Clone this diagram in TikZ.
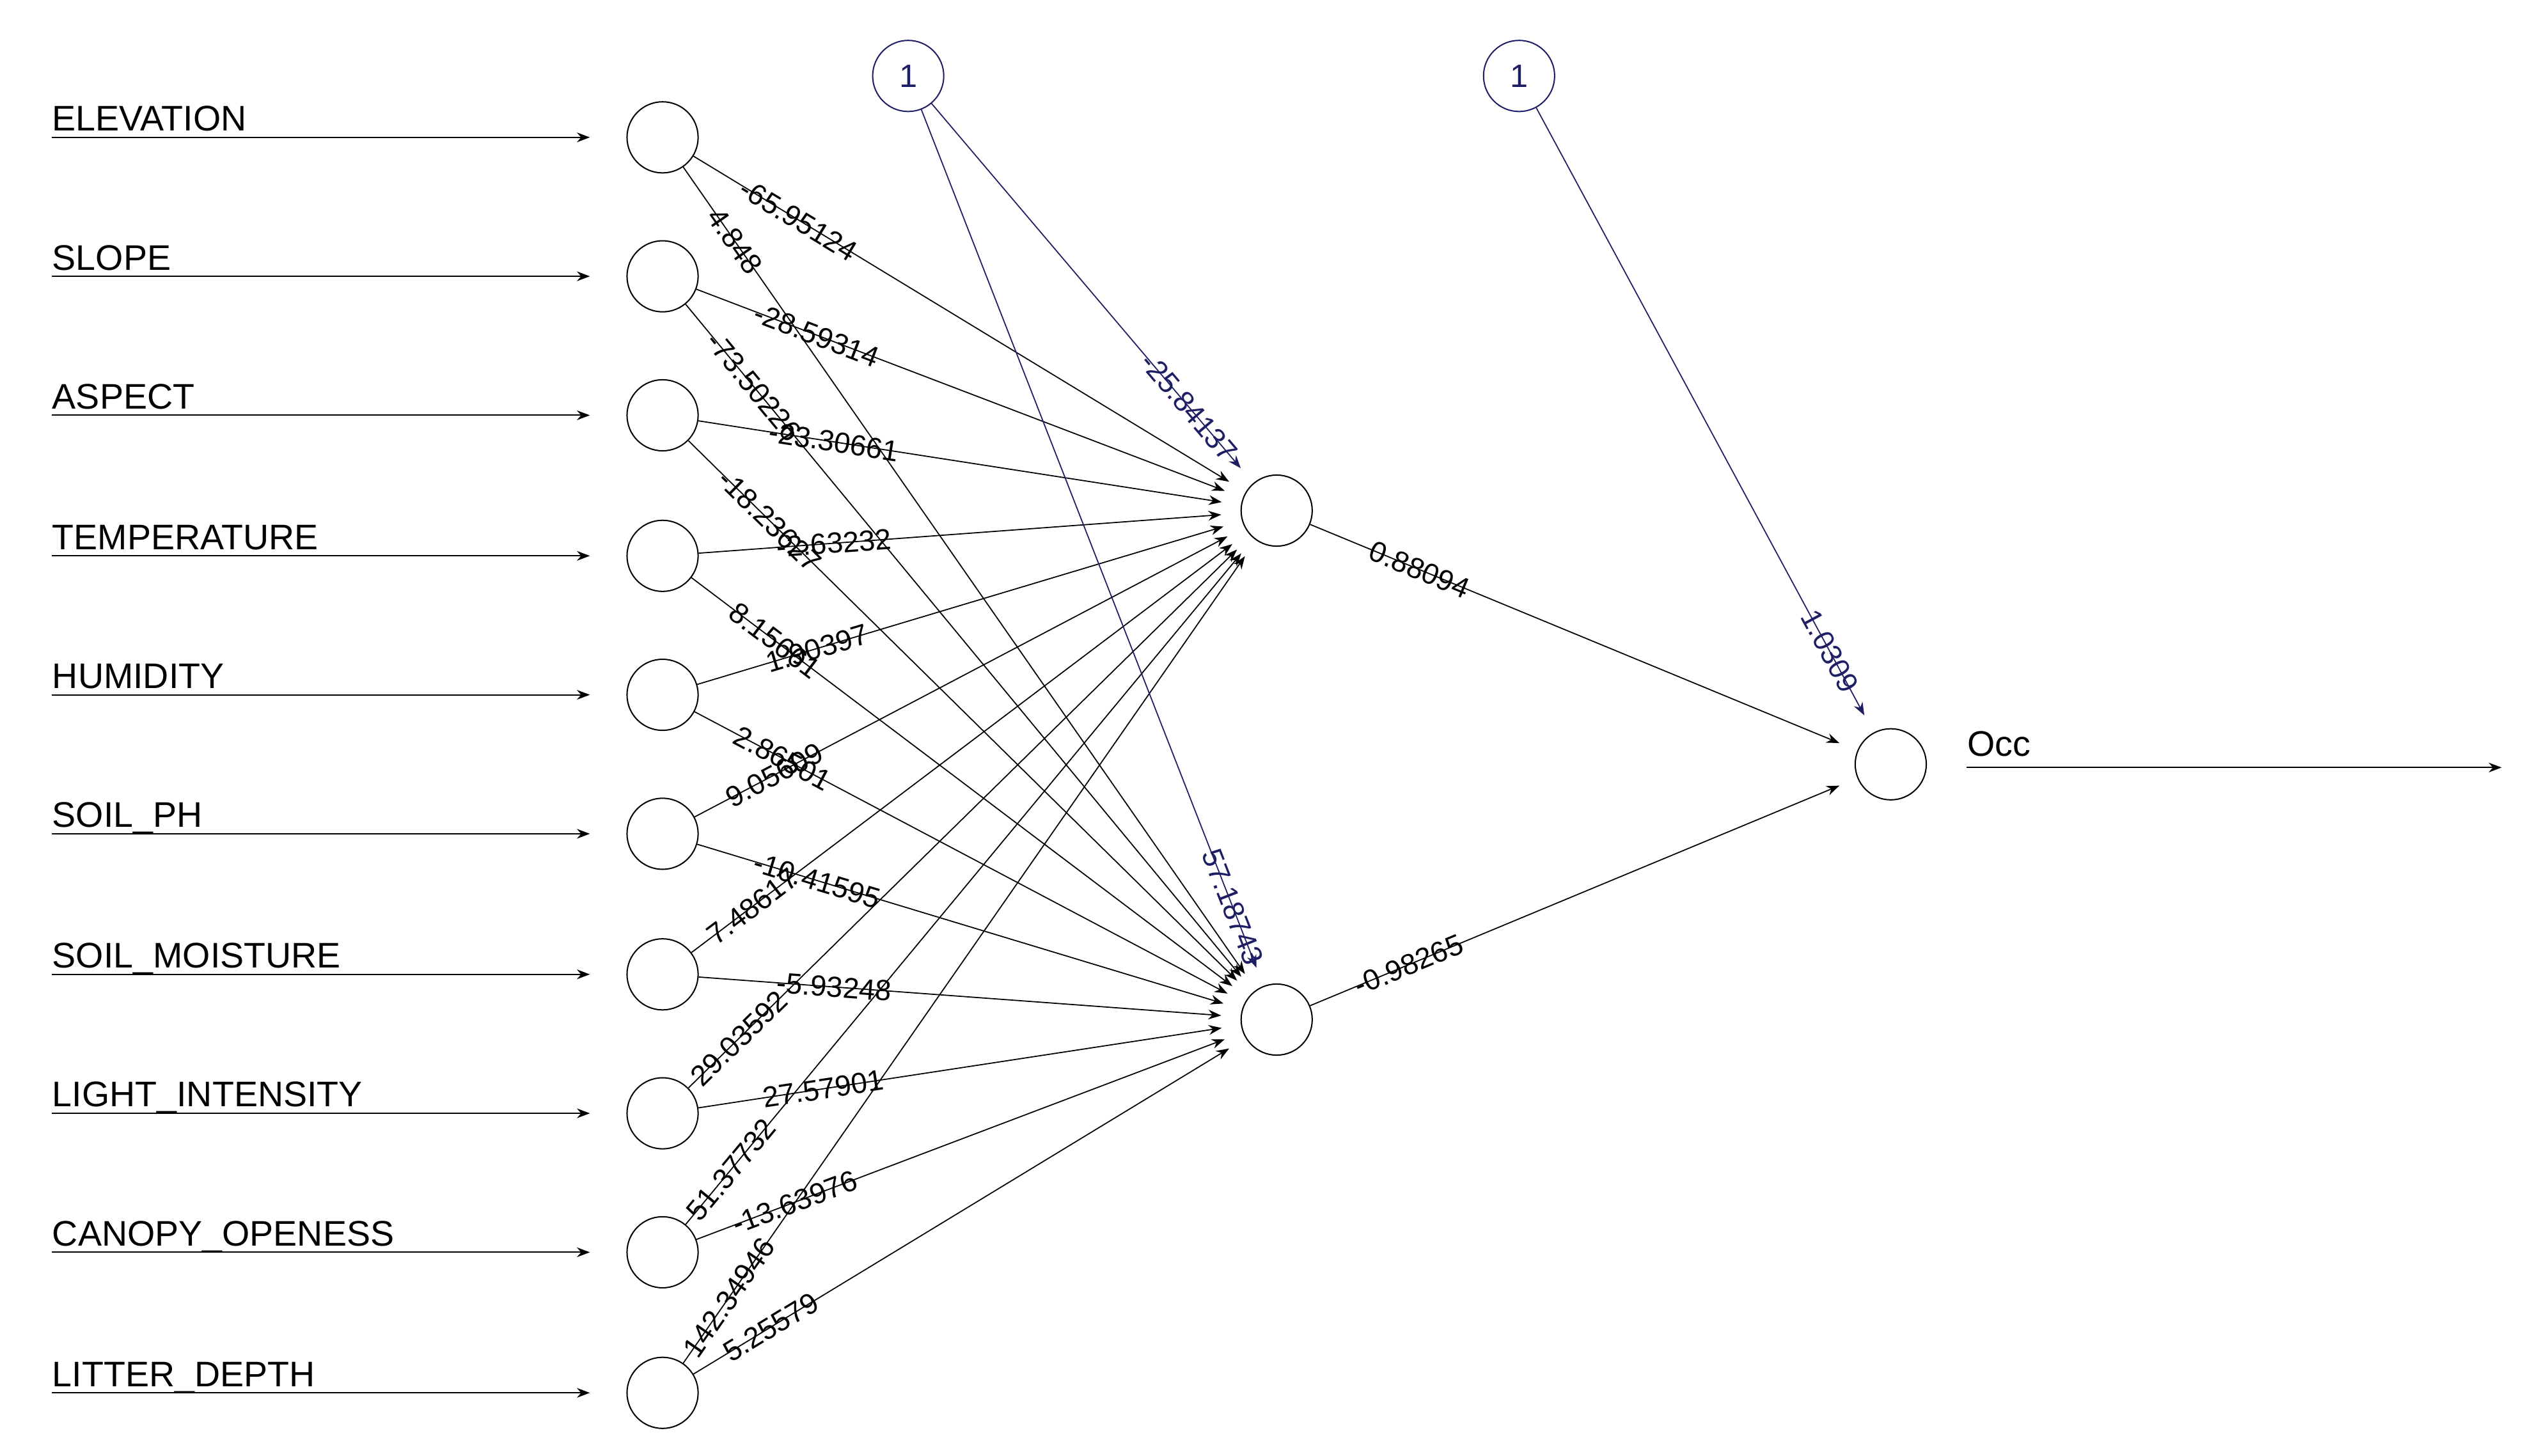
\documentclass[tikz,border=0pt]{standalone}
\usepackage{fontspec}
\setmainfont{Liberation Sans}
\usetikzlibrary{arrows.meta}
\definecolor{bias}{RGB}{30,30,100}
\begin{document}
\begin{tikzpicture}[x=0.5pt,y=-0.5pt,
  neuron/.style={circle,draw,line width=0.4pt,minimum size=22pt,inner sep=0},
  edge/.style={line width=0.35pt,-{Stealth[length=4pt,width=3pt]},shorten >=6pt},
  w/.style={font=\fontsize{9}{10}\selectfont,sloped,inner sep=0.5pt},
  lab/.style={font=\fontsize{11}{12}\selectfont,anchor=base west,inner sep=0},
  biasedge/.style={edge,draw=bias},
  bw/.style={w,text=bias}]
\useasboundingbox (0,0) rectangle (1560,901);
% inputs
\foreach \n/\t/\y in {1/ELEVATION/85,2/SLOPE/171,3/ASPECT/257,4/TEMPERATURE/344,5/HUMIDITY/430,6/SOIL\_PH/516,7/SOIL\_MOISTURE/603,8/LIGHT\_INTENSITY/689,9/CANOPY\_OPENESS/775,10/LITTER\_DEPTH/862}{
  \node[neuron] (i\n) at (410,\y) {};
  \node[lab] (l\n) at (32,\y-4) {\t};
  \coordinate (s\n) at (32,\y);
  \coordinate (e\n) at (365,\y);
  \draw[line width=0.4pt,-{Stealth[length=4pt,width=3pt]}] (s\n) -- (e\n);
}
\node[neuron] (h1) at (790,316) {};
\node[neuron] (h2) at (790,631) {};
\node[neuron] (o) at (1170,473) {};
\node[neuron,font=\fontsize{10}{12}\selectfont,text=bias,draw=bias] (b1) at (562,47) {1};
\node[neuron,font=\fontsize{10}{12}\selectfont,text=bias,draw=bias] (b2) at (940,47) {1};
\node[lab] (ol) at (1217,468) {Occ};
\coordinate (os) at (1217,475);
\coordinate (oe) at (1548,475);
\draw[line width=0.4pt,-{Stealth[length=4pt,width=3pt]}] (os) -- (oe);
% input -> hidden1
\foreach \n/\f/\v in {1/0.19/-65.95124,2/0.22/-28.59314,3/0.25/-23.30661,4/0.25/-2.63232,5/0.22/1.90397,6/0.145/9.05609,7/0.11/7.48617,8/0.09/29.03592,9/0.08/51.37732,10/0.08/142.34946}{
  \draw[edge] (i\n) -- node[w,pos=\f] {\v} (h1);
}
% input -> hidden2
\foreach \n/\f/\v in {1/0.09/4.848,2/0.12/-73.50226,3/0.145/-18.23627,4/0.15/8.15661,5/0.16/2.86501,6/0.22/-10.41595,7/0.25/-5.93248,8/0.23/27.57901,9/0.18/-13.63976,10/0.14/5.25579}{
  \draw[edge] (i\n) -- node[w,pos=\f] {\v} (h2);
}
\draw[biasedge] (b1) -- node[bw,pos=0.8] {-25.84137} (h1);
\draw[biasedge] (b1) -- node[bw,pos=0.91] {57.18743} (h2);
\draw[biasedge] (b2) -- node[bw,pos=0.87] {1.0309} (o);
\draw[edge] (h1) -- node[w,pos=0.2] {0.88094} (o);
\draw[edge] (h2) -- node[w,pos=0.18] {-0.98265} (o);
\end{tikzpicture}
\end{document}
